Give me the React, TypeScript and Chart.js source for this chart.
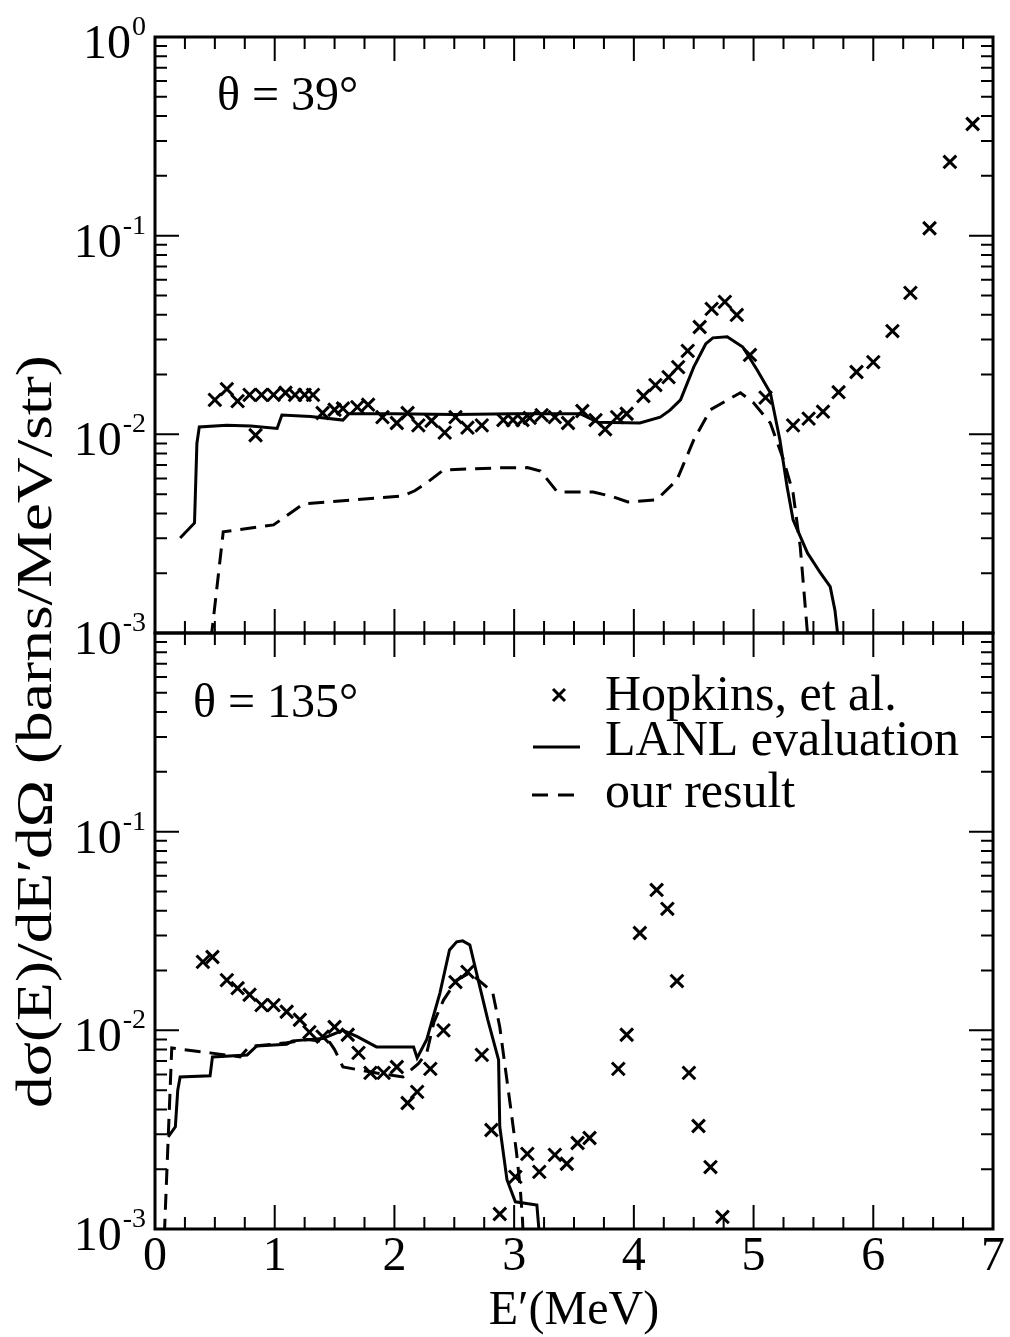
import React, { useEffect, useRef } from 'react';
import { Chart, registerables } from 'chart.js';
Chart.register(...registerables);

const FONT = '"Liberation Serif", "Times New Roman", "DejaVu Serif", serif';

// ---- theta = 39 deg (top panel) ----
const topHopE = [0.50, 0.60, 0.69, 0.79, 0.84, 0.89, 0.99, 1.09, 1.17, 1.25, 1.32, 1.40, 1.50, 1.57, 1.69, 1.78, 1.90, 2.02, 2.11, 2.20, 2.31, 2.42, 2.51, 2.61, 2.73, 2.91, 2.99, 3.07, 3.13, 3.23, 3.34, 3.45, 3.57, 3.68, 3.76, 3.86, 3.94, 4.08, 4.18, 4.29, 4.37, 4.45, 4.55, 4.65, 4.76, 4.86, 4.97, 5.10, 5.33, 5.46, 5.58, 5.71, 5.86, 6.00, 6.16, 6.31, 6.47, 6.64, 6.83];
const topHopV = [0.0149, 0.0169, 0.0147, 0.0158, 0.0099, 0.0158, 0.0158, 0.0162, 0.0158, 0.0158, 0.0158, 0.0128, 0.0133, 0.0135, 0.0137, 0.0141, 0.0122, 0.0114, 0.0128, 0.0111, 0.0117, 0.0102, 0.0122, 0.0108, 0.0111, 0.0118, 0.0118, 0.0118, 0.0121, 0.0125, 0.0122, 0.0114, 0.0131, 0.0118, 0.0106, 0.0122, 0.0127, 0.0156, 0.0177, 0.0194, 0.0218, 0.0263, 0.0347, 0.0428, 0.0464, 0.0399, 0.0251, 0.0153, 0.0111, 0.0120, 0.0130, 0.0163, 0.0206, 0.0231, 0.0331, 0.0515, 0.109, 0.235, 0.365];

const topLanlE = [0.21, 0.33, 0.35, 0.37, 0.60, 0.80, 1.02, 1.06, 1.30, 1.57, 1.62, 2.00, 2.50, 3.00, 3.55, 3.70, 4.05, 4.22, 4.30, 4.39, 4.50, 4.60, 4.66, 4.78, 4.91, 5.03, 5.14, 5.22, 5.28, 5.33, 5.45, 5.56, 5.64, 5.68, 5.71];
const topLanlV = [0.00301, 0.00358, 0.0090, 0.0109, 0.0111, 0.0110, 0.0107, 0.0125, 0.0123, 0.0118, 0.0127, 0.0127, 0.0126, 0.0127, 0.0127, 0.0115, 0.0114, 0.0122, 0.0132, 0.0149, 0.0218, 0.0285, 0.0306, 0.0310, 0.0275, 0.0211, 0.0162, 0.00937, 0.00544, 0.00371, 0.00253, 0.0020, 0.00171, 0.0013, 0.0009];

const topOursE = [0.445, 0.57, 0.99, 1.24, 2.07, 2.17, 2.27, 2.41, 2.87, 3.11, 3.22, 3.36, 3.66, 3.83, 3.95, 4.19, 4.36, 4.50, 4.64, 4.89, 5.00, 5.14, 5.25, 5.33, 5.39, 5.45, 5.47];
const topOursV = [0.0007, 0.00323, 0.0035, 0.00447, 0.0049, 0.0052, 0.0057, 0.00662, 0.00678, 0.0068, 0.00654, 0.00513, 0.00513, 0.00484, 0.00457, 0.00468, 0.0059, 0.00937, 0.0133, 0.0162, 0.0144, 0.0114, 0.00743, 0.00507, 0.00271, 0.0010, 0.0007];

// ---- theta = 135 deg (bottom panel) ----
const botHopE = [0.40, 0.48, 0.60, 0.69, 0.79, 0.89, 0.99, 1.10, 1.21, 1.29, 1.40, 1.50, 1.61, 1.70, 1.80, 1.91, 2.02, 2.11, 2.19, 2.30, 2.41, 2.51, 2.61, 2.73, 2.81, 2.88, 3.01, 3.11, 3.21, 3.34, 3.44, 3.53, 3.63, 3.87, 3.94, 4.05, 4.19, 4.28, 4.36, 4.46, 4.54, 4.64, 4.74];
const botHopV = [0.0221, 0.0234, 0.0179, 0.0163, 0.0151, 0.0134, 0.0134, 0.0124, 0.0113, 0.0098, 0.0093, 0.0104, 0.0095, 0.0077, 0.00611, 0.00611, 0.00654, 0.00431, 0.0049, 0.0064, 0.0100, 0.0175, 0.0197, 0.00752, 0.00315, 0.00119, 0.00183, 0.00239, 0.00194, 0.00236, 0.00213, 0.00271, 0.00287, 0.0064, 0.0095, 0.0309, 0.0509, 0.0409, 0.0177, 0.00611, 0.0033, 0.00205, 0.00115];

const botLanlE = [0.11, 0.17, 0.19, 0.21, 0.46, 0.48, 0.77, 0.85, 1.10, 1.15, 1.40, 1.57, 1.69, 1.85, 2.16, 2.19, 2.27, 2.38, 2.46, 2.52, 2.57, 2.63, 2.70, 2.78, 2.87, 2.88, 2.94, 3.01, 3.19, 3.22];
const botLanlV = [0.00291, 0.00327, 0.0050, 0.00582, 0.0059, 0.00735, 0.00752, 0.00834, 0.0085, 0.00885, 0.0091, 0.0100, 0.0093, 0.00825, 0.00825, 0.00726, 0.0090, 0.0154, 0.0254, 0.0279, 0.0282, 0.0269, 0.0179, 0.0113, 0.0071, 0.00327, 0.00177, 0.00137, 0.00132, 0.0008];

const botOursE = [0.07, 0.14, 0.46, 0.71, 0.79, 1.10, 1.27, 1.46, 1.50, 1.57, 1.85, 2.07, 2.20, 2.27, 2.33, 2.41, 2.52, 2.63, 2.82, 2.88, 2.97, 3.02, 3.05, 3.07, 3.08];
const botOursV = [0.0007, 0.00815, 0.0077, 0.00735, 0.0083, 0.00865, 0.0090, 0.0087, 0.0080, 0.00654, 0.0061, 0.00582, 0.0068, 0.0077, 0.0110, 0.0142, 0.0179, 0.0195, 0.0156, 0.0104, 0.00411, 0.00242, 0.00163, 0.00111, 0.0008];

// ---- axes / text ----
const xTickLabels = ['0', '1', '2', '3', '4', '5', '6', '7'];
const topTickExps = [0, -1, -2, -3];
const botTickExps = [-1, -2, -3];
const panelLabels = ['\u03b8 = 39\u00b0', '\u03b8 = 135\u00b0'];
const legendLabels = ['Hopkins, et al.', 'LANL evaluation', 'our result'];
const xTitle = 'E\u2032(MeV)';
const yTitle = 'd\u03c3(E)/dE\u2032d\u03a9 (barns/MeV/str)';

const pts = (xs: number[], ys: number[]) => xs.map((x, i) => ({ x, y: ys[i] }));

const lineDs = (xs: number[], ys: number[], axis: string, dashed: boolean) => ({
  data: pts(xs, ys),
  yAxisID: axis,
  showLine: true,
  borderColor: '#000',
  borderWidth: 3,
  borderDash: dashed ? [16, 9] : [],
  pointRadius: 0,
  tension: 0,
  fill: false,
});
const crossDs = (xs: number[], ys: number[], axis: string) => ({
  data: pts(xs, ys),
  yAxisID: axis,
  showLine: false,
  pointStyle: 'crossRot',
  pointRadius: 9,
  borderWidth: 3,
  borderColor: '#000',
  backgroundColor: '#000',
});

const framePlugin = {
  id: 'frame',
  beforeDatasetDraw(chart: any, args: any) {
    const ys = args.meta.yScale;
    const a = chart.chartArea;
    const ctx = chart.ctx;
    ctx.save();
    ctx.beginPath();
    ctx.rect(a.left, ys.top, a.right - a.left, ys.bottom - ys.top);
    ctx.clip();
  },
  afterDatasetDraw(chart: any) {
    chart.ctx.restore();
  },
  afterDraw(chart: any) {
    const ctx = chart.ctx;
    const xs = chart.scales.x;
    const yTop = chart.scales.yTop;
    const yBot = chart.scales.yBot;
    const L = xs.left;
    const R = xs.right;
    ctx.save();
    ctx.strokeStyle = '#000';
    ctx.fillStyle = '#000';
    ctx.setLineDash([]);
    for (const ys of [yTop, yBot]) {
      const T = ys.top;
      const B = ys.bottom;
      ctx.lineWidth = 2;
      ctx.beginPath();
      for (let i = 0; i <= 28; i++) {
        const px = xs.getPixelForValue(i * 0.25);
        const len = i % 4 === 0 ? 24 : 12;
        ctx.moveTo(px, B); ctx.lineTo(px, B - len);
        ctx.moveTo(px, T); ctx.lineTo(px, T + len);
      }
      for (let d = -3; d <= 0; d++) {
        for (let m = 1; m <= 9; m++) {
          const v = m * Math.pow(10, d);
          if (v > 1.0001) break;
          const py = ys.getPixelForValue(v);
          const len = m === 1 ? 24 : 12;
          ctx.moveTo(L, py); ctx.lineTo(L + len, py);
          ctx.moveTo(R, py); ctx.lineTo(R - len, py);
        }
      }
      ctx.stroke();
      ctx.lineWidth = 3;
      ctx.strokeRect(L, T, R - L, B - T);
    }

    // y tick labels with superscripts
    const drawPow = (e: number, y: number) => {
      const exp = e === 0 ? '0' : '-' + Math.abs(e);
      ctx.font = `48px ${FONT}`;
      const wb = ctx.measureText('10').width;
      ctx.font = `28px ${FONT}`;
      const we = ctx.measureText(exp).width;
      const right = L - 10;
      const start = right - wb - we;
      ctx.textAlign = 'left';
      ctx.textBaseline = 'alphabetic';
      ctx.font = `48px ${FONT}`;
      ctx.fillText('10', start, y + 21);
      ctx.font = `28px ${FONT}`;
      ctx.fillText(exp, start + wb + 1, y - 2);
    };
    topTickExps.forEach((e) => drawPow(e, yTop.getPixelForValue(Math.pow(10, e))));
    botTickExps.forEach((e) => drawPow(e, yBot.getPixelForValue(Math.pow(10, e))));

    // x tick labels
    ctx.font = `48px ${FONT}`;
    ctx.textAlign = 'center';
    ctx.textBaseline = 'alphabetic';
    xTickLabels.forEach((t) => {
      ctx.fillText(t, xs.getPixelForValue(Number(t)), yBot.bottom + 41);
    });
    // x title
    ctx.fillText(xTitle, (L + R) / 2, yBot.bottom + 95);

    // y title: runs from y=1108 up to y=355
    ctx.save();
    ctx.font = `50px ${FONT}`;
    const tw = ctx.measureText(yTitle).width;
    const want = 1108 - 355;
    ctx.translate(51, 1108);
    ctx.rotate(-Math.PI / 2);
    ctx.scale(want / tw, 1);
    ctx.textAlign = 'left';
    ctx.textBaseline = 'alphabetic';
    ctx.fillText(yTitle, 0, 0);
    ctx.restore();

    // panel annotations
    ctx.font = `48px ${FONT}`;
    ctx.textAlign = 'left';
    ctx.textBaseline = 'alphabetic';
    ctx.fillText(panelLabels[0], L + 62, yTop.top + 73);
    ctx.fillText(panelLabels[1], L + 38, yBot.top + 84);

    // legend
    ctx.font = `50px ${FONT}`;
    const lx = L + 450;
    const T2 = yBot.top;
    ctx.fillText(legendLabels[0], lx, T2 + 77);
    ctx.fillText(legendLabels[1], lx, T2 + 122);
    ctx.fillText(legendLabels[2], lx, T2 + 174);
    ctx.lineWidth = 3;
    ctx.beginPath();
    const cx = L + 404;
    const cy = T2 + 62;
    ctx.moveTo(cx - 6, cy - 6); ctx.lineTo(cx + 6, cy + 6);
    ctx.moveTo(cx + 6, cy - 6); ctx.lineTo(cx - 6, cy + 6);
    ctx.stroke();
    ctx.beginPath();
    ctx.moveTo(L + 378, T2 + 114); ctx.lineTo(L + 425, T2 + 114);
    ctx.stroke();
    ctx.setLineDash([16, 10]);
    ctx.beginPath();
    ctx.moveTo(L + 377, T2 + 162); ctx.lineTo(L + 425, T2 + 162);
    ctx.stroke();
    ctx.restore();
  },
};

export default function App() {
  const ref = useRef<HTMLCanvasElement | null>(null);
  useEffect(() => {
    if (!ref.current) return;
    const chart = new Chart(ref.current, {
      type: 'scatter',
      data: {
        datasets: [
          crossDs(topHopE, topHopV, 'yTop'),
          lineDs(topLanlE, topLanlV, 'yTop', false),
          lineDs(topOursE, topOursV, 'yTop', true),
          crossDs(botHopE, botHopV, 'yBot'),
          lineDs(botLanlE, botLanlV, 'yBot', false),
          lineDs(botOursE, botOursV, 'yBot', true),
        ] as any,
      },
      options: {
        animation: false,
        responsive: false,
        maintainAspectRatio: false,
        layout: { padding: { left: 155, top: 37, right: 17, bottom: 108 } },
        plugins: { legend: { display: false }, tooltip: { enabled: false } },
        scales: {
          x: { type: 'linear', min: 0, max: 7, display: false },
          yBot: { type: 'logarithmic', min: 0.001, max: 1, position: 'left', stack: 'p', stackWeight: 1, display: false },
          yTop: { type: 'logarithmic', min: 0.001, max: 1, position: 'left', stack: 'p', stackWeight: 1, display: false },
        } as any,
      },
      plugins: [framePlugin],
    });
    return () => chart.destroy();
  }, []);
  return (
    <div style={{ position: 'absolute', left: 0, top: 0, width: 1010, height: 1337, background: '#fff' }}>
      <canvas ref={ref} width={1010} height={1337} style={{ width: 1010, height: 1337, display: 'block' }} />
    </div>
  );
}
